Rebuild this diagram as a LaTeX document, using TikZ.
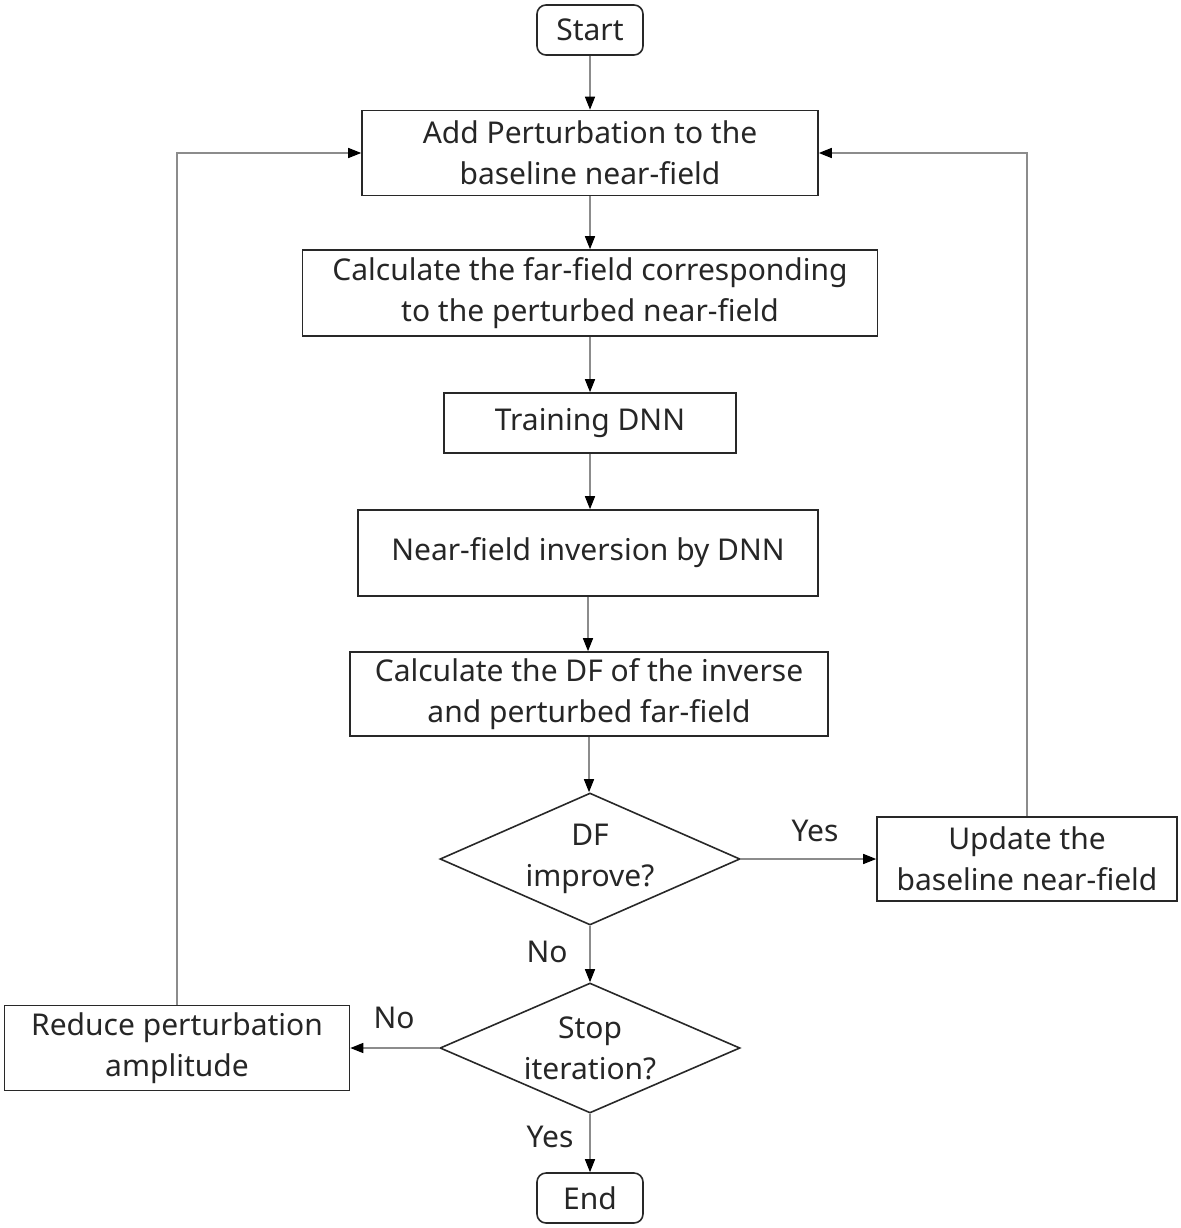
\documentclass[tikz,border=0pt]{standalone}
\usepackage{fontspec}
\setmainfont{Noto Sans}
\usetikzlibrary{arrows.meta,shapes.geometric}
\definecolor{linegray}{RGB}{140,140,140}
\definecolor{boxline}{RGB}{40,40,40}
\tikzset{
  x=1pt,y=-1pt,
  base/.style={draw=boxline,line width=1.6pt,align=center,font=\fontsize{30}{41}\selectfont,text=black!85,inner sep=0pt},
  procbox/.style={base,rectangle},
  termbox/.style={base,rectangle,rounded corners=9pt},
  decshape/.style={draw=boxline,line width=1.6pt,diamond,aspect=2.27,inner sep=0pt},
  dectext/.style={align=center,font=\fontsize{30}{41}\selectfont,text=black!85},
  conn/.style={draw=linegray,line width=1.4pt,-{Triangle[length=13pt,width=10pt,color=black]}},
  lbl/.style={font=\fontsize{30}{34}\selectfont,text=black!85}
}
\begin{document}
\begin{tikzpicture}
\useasboundingbox (0,0) rectangle (1180,1228);
\node[termbox,minimum width=106pt,minimum height=50pt] (start) at (590,30) {Start};
\node[procbox,minimum width=456pt,minimum height=85pt] (add) at (590,153) {Add Perturbation to the\\baseline near-field};
\node[procbox,minimum width=575pt,minimum height=86pt] (calc) at (590,293) {Calculate the far-field corresponding\\to the perturbed near-field};
\node[procbox,minimum width=292pt,minimum height=60pt] (train) at (590,423) {Training DNN};
\node[procbox,minimum width=460pt,minimum height=86pt] (inv) at (588,553) {Near-field inversion by DNN};
\node[procbox,minimum width=478pt,minimum height=84pt] (df) at (589,694) {Calculate the DF of the inverse\\and perturbed far-field};
\node[decshape,minimum width=300pt,minimum height=132pt] (imp) at (590,859) {};
\node[dectext] (impt) at (590,859) {DF\\improve?};
\node[procbox,minimum width=300pt,minimum height=84pt] (upd) at (1027,859) {Update the\\baseline near-field};
\node[decshape,minimum width=300pt,minimum height=130pt] (stop) at (590,1048) {};
\node[dectext] (stopt) at (590,1048) {Stop\\iteration?};
\node[procbox,minimum width=345pt,minimum height=85pt] (red) at (177,1048) {Reduce perturbation\\amplitude};
\node[termbox,minimum width=106pt,minimum height=50pt] (end) at (590,1198) {End};

\draw[conn] (start) -- (add);
\draw[conn] (add) -- (calc);
\draw[conn] (calc) -- (train);
\draw[conn] (train.south) -- (train.south |- inv.north);
\draw[conn] (inv.south) -- (inv.south |- df.north);
\draw[conn] (df.south) -- (df.south |- imp.north);
\draw[conn] (imp.east) -- (upd.west);
\draw[conn] (imp.south) -- (stop.north);
\draw[conn] (stop.west) -- (red.east);
\draw[conn] (stop.south) -- (end.north);
\draw[conn] (upd.north) |- (add.east);
\draw[conn] (red.north) |- (add.west);

\node[lbl] (yes1) at (815,831) {Yes};
\node[lbl] (no1) at (547,952) {No};
\node[lbl] (no2) at (394,1018) {No};
\node[lbl] (yes2) at (550,1137) {Yes};
\end{tikzpicture}
\end{document}
